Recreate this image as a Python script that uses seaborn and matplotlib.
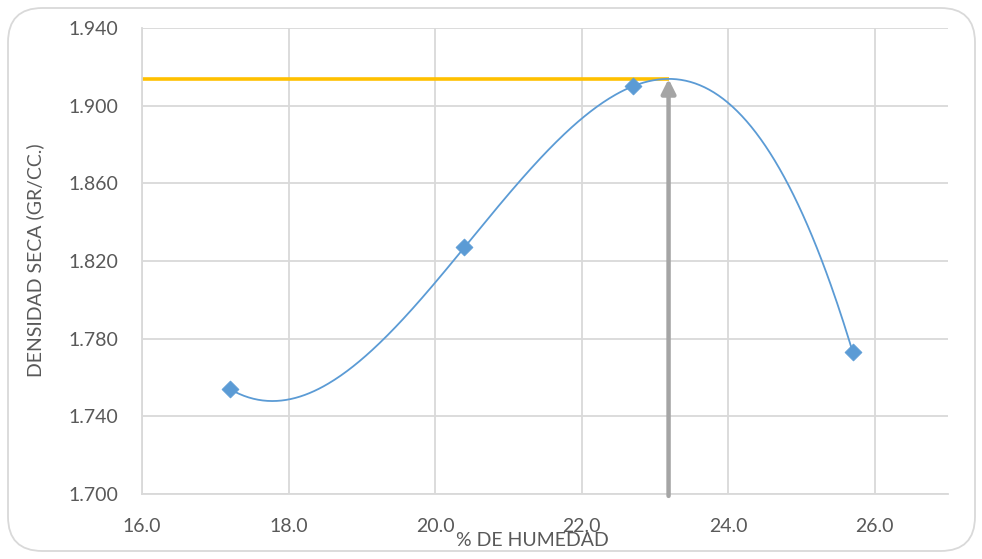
import numpy as np
import pandas as pd
import matplotlib
matplotlib.use("Agg")
import matplotlib.pyplot as plt
from matplotlib.patches import FancyBboxPatch
import seaborn as sns

# data
humedad = [17.2, 20.4, 22.7, 25.7]
densidad = [1.754, 1.827, 1.910, 1.773]
x_ticks = [16.0, 18.0, 20.0, 22.0, 24.0, 26.0]
y_ticks = [1.700, 1.740, 1.780, 1.820, 1.860, 1.900, 1.940]
x_label = "% DE HUMEDAD"
y_label = "DENSIDAD SECA (GR/CC.)"

sns.set_theme(style="white")
plt.rcParams['font.family'] = ['Lato', 'DejaVu Sans']

fig = plt.figure(figsize=(9.82, 5.59), dpi=100)
ax = fig.add_axes([0.1446, 0.1163, 0.8208, 0.8336])

df = pd.DataFrame({"x": humedad, "y": densidad})

# cubic polynomial trendline
coef = np.polyfit(humedad, densidad, 3)
xs = np.linspace(min(humedad), max(humedad), 400)
ys = np.polyval(coef, xs)
imax = np.argmax(ys)
x_max, y_max = xs[imax], ys[imax]

blue = "#5B9BD5"
sns.lineplot(x=xs, y=ys, ax=ax, color=blue, linewidth=1.3, zorder=3)
sns.scatterplot(data=df, x="x", y="y", ax=ax, marker="D", s=75, color=blue,
                edgecolor=blue, linewidth=0.5, zorder=4)

ax.set_xlim(16, 27)
ax.set_ylim(1.700, 1.940)

# yellow horizontal line to max
ax.plot([16, x_max], [y_max, y_max], color="#FFC000", linewidth=2.6, zorder=2,
        solid_capstyle="butt")
# gray arrow
ax.annotate("", xy=(x_max, y_max), xytext=(x_max, 1.699),
            arrowprops=dict(arrowstyle="-|>,head_length=0.7,head_width=0.35",
                            color="#A5A5A5", lw=3.2, shrinkA=0, shrinkB=0),
            zorder=5, annotation_clip=False)

ax.set_xticks(x_ticks)
ax.set_yticks(y_ticks)
ax.set_xticklabels([f"{v:.1f}" for v in x_ticks])
ax.set_yticklabels([f"{v:.3f}" for v in y_ticks])
ax.tick_params(axis="both", length=0, labelsize=14, colors="#595959")
ax.tick_params(axis="x", pad=17)
ax.tick_params(axis="y", pad=17)
ax.set_xlabel("")
ax.set_ylabel("")

ax.grid(True, color="#D9D9D9", linewidth=1.3)
ax.set_axisbelow(True)
for s in ["top", "right"]:
    ax.spines[s].set_visible(False)
for s in ["left", "bottom"]:
    ax.spines[s].set_color("#D9D9D9")
    ax.spines[s].set_linewidth(1.3)

fig.text(532 / 982, 1 - 541 / 559, x_label, ha="center", va="center",
         fontsize=14, color="#595959")
fig.text(35 / 982, 1 - 260 / 559, y_label, ha="center", va="center",
         rotation=90, fontsize=14, color="#595959")

border = FancyBboxPatch((8 / 982, 8 / 559), 967 / 982, 543 / 559,
                        boxstyle="round,pad=0,rounding_size=0.035",
                        transform=fig.transFigure, facecolor="none",
                        edgecolor="#D9D9D9", linewidth=1.3, mutation_aspect=982 / 559)
fig.patches.append(border)

fig.savefig("out.png", dpi=100)
